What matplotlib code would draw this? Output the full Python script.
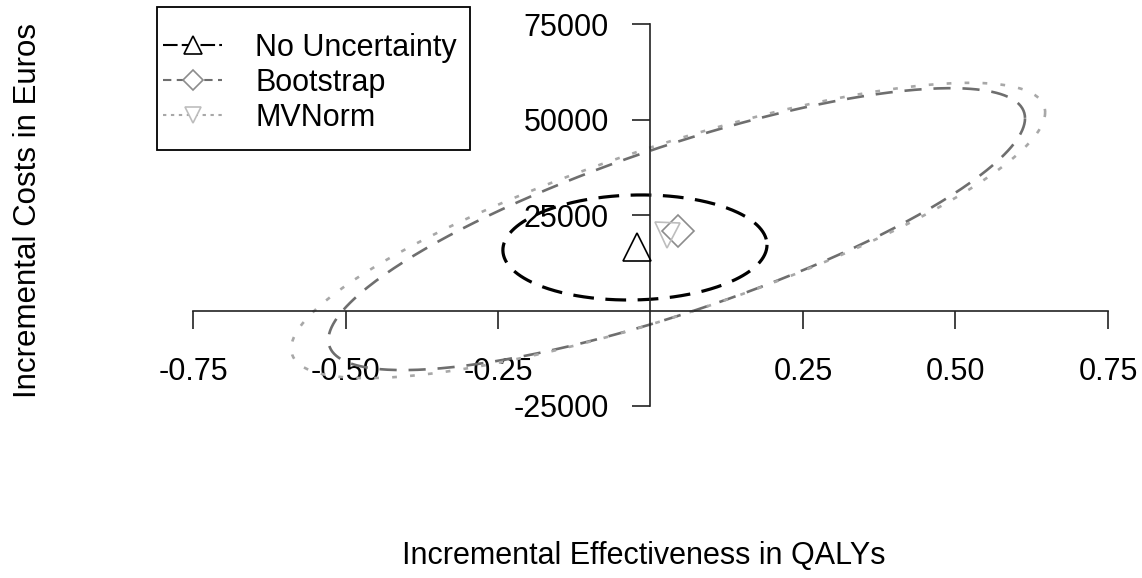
import numpy as np
import matplotlib
matplotlib.use("Agg")
import matplotlib.pyplot as plt
from matplotlib.patches import Rectangle

plt.rcParams['font.family'] = ['Liberation Sans', 'DejaVu Sans']

# ---- data ----
series = ["No Uncertainty", "Bootstrap", "MVNorm"]
point_x = [-0.022, 0.045, 0.027]          # incremental effectiveness (QALYs)
point_y = [16600, 20800, 19700]           # incremental costs (Euros)
ell_cx = [-0.0255, 0.043, 0.029]          # ellipse centres
ell_cy = [16500, 21300, 20950]
ell_ax = [0.2165, 0.571, 0.618]           # half-extent along x
ell_by = [13750, 36900, 38650]            # half-extent along y
ell_rho = [0.05, 0.786, 0.80]             # correlation (tilt)

x_ticks = [-0.75, -0.50, -0.25, 0.25, 0.50, 0.75]
x_ticklabels = ["-0.75", "-0.50", "-0.25", "0.25", "0.50", "0.75"]
y_ticks = [-25000, 25000, 50000, 75000]
y_ticklabels = ["-25000", "25000", "50000", "75000"]

# ---- styles ----
colors = ["black", "#6e6e6e", "#a8a8a8"]
marker_colors = ["black", "#8c8c8c", "#bdbdbd"]
markers = ["^", "D", "v"]
msizes = [20, 16, 18]
lws = [2.3, 1.9, 1.9]
dashes = [(0, (6.5, 3.6)), (0, (6.5, 4.5)), (0, (1.8, 5.0))]
legend_dashes = [(0, (7, 2)), (0, (4, 2.6)), (0, (1.6, 2.2))]

fig = plt.figure(figsize=(11.42, 5.78), dpi=100)
W, H = 1142, 578
left_px, right_px, top_px, bot_px = 140, 1130, 5, 470
ax = fig.add_axes([left_px / W, 1 - bot_px / H, (right_px - left_px) / W, (bot_px - top_px) / H])
ax.set_xlim(-0.8369, 0.7861)
ax.set_ylim(-41754, 79974)

t = np.linspace(0, 2 * np.pi, 400)
handles = []
for i in range(3):
    d = np.arccos(ell_rho[i])
    ex = ell_cx[i] + ell_ax[i] * np.cos(t)
    ey = ell_cy[i] + ell_by[i] * np.cos(t + d)
    ax.plot(ex, ey, color=colors[i], lw=lws[i], linestyle=dashes[i], zorder=2)
    ax.plot([point_x[i]], [point_y[i]], marker=markers[i], ms=msizes[i], mfc="none",
            mec=marker_colors[i], mew=1.2, linestyle="none", zorder=3)
    h, = ax.plot([], [], color=colors[i], lw=1.5, linestyle=legend_dashes[i],
                 marker=markers[i], ms=msizes[i] * 0.62, mfc="white", mec=marker_colors[i], mew=1.2)
    handles.append(h)

for s in ["top", "right"]:
    ax.spines[s].set_visible(False)
ax.spines["left"].set_position(("data", 0))
ax.spines["bottom"].set_position(("data", 0))
ax.spines["left"].set_bounds(-25000, 75000)
ax.spines["bottom"].set_bounds(-0.75, 0.75)
for s in ["left", "bottom"]:
    ax.spines[s].set_linewidth(1.2)
    ax.spines[s].set_color("#222222")

ax.set_xticks(x_ticks)
ax.set_xticklabels(x_ticklabels)
ax.set_yticks(y_ticks)
ax.set_yticklabels(y_ticklabels)
ax.tick_params(axis="x", direction="out", length=13, width=1.2, color="#222222", pad=20.5, labelsize=22)
ax.tick_params(axis="y", direction="out", length=13, width=1.2, color="#222222", pad=17, labelsize=22)

fig.text(644 / W, 1 - 556 / H, "Incremental Effectiveness in QALYs", ha="center", va="center", fontsize=22)
fig.text(28 / W, 1 - 211 / H, "Incremental Costs in Euros", ha="center", va="center", rotation=90, fontsize=22.5)

leg = ax.legend(handles, series, loc="upper left", bbox_to_anchor=(157 / W, 1 - 27 / H),
                bbox_transform=fig.transFigure, borderaxespad=0, fontsize=22, frameon=False,
                handlelength=1.93, handletextpad=1.08, labelspacing=0.165, borderpad=0.2)
fig.patches.append(Rectangle((157 / W, 1 - 150 / H), 313 / W, 143 / H, transform=fig.transFigure,
                             fill=False, edgecolor="black", linewidth=1.3))

fig.savefig("out.png", dpi=100)
